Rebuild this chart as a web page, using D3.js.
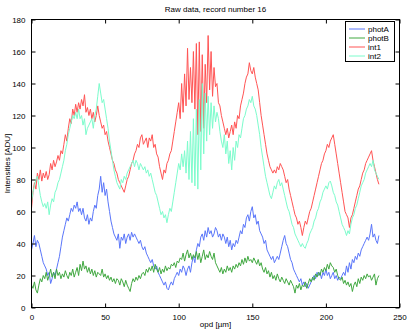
<!DOCTYPE html>
<html>
<head>
<meta charset="utf-8">
<script src="https://cdn.jsdelivr.net/npm/d3@7"></script>
<style>
  body { margin: 0; background: #fff; }
  text { font-family: "Liberation Sans", Arial, sans-serif; font-size: 8px; fill: #000; }
</style>
</head>
<body>
<div id="chart"></div>
<script>
var svgWidth = 409
var svgHeight = 332

// opd positions in um, one sample per micron
var opdStart = 0
var opdEnd = 236

var photA = [
  36, 40, 45, 38, 42, 40, 36, 32, 28, 26,
  24, 20, 22, 15, 18, 22, 20, 24, 28, 32,
  38, 44, 48, 52, 56, 54, 58, 62, 60, 64,
  62, 66, 60, 62, 58, 62, 56, 54, 58, 52,
  56, 54, 60, 64, 62, 70, 74, 82, 72, 78,
  70, 74, 66, 60, 54, 50, 46, 44, 42, 46,
  37, 44, 42, 46, 40, 44, 46, 42, 47, 44,
  46, 44, 42, 40, 42, 38, 36, 38, 34, 32,
  30, 28, 30, 26, 24, 26, 22, 20, 18, 16,
  14, 16, 12, 11, 14, 16, 14, 18, 20, 22,
  20, 24, 22, 26, 24, 20, 24, 26, 22, 28,
  32, 28, 36, 40, 38, 44, 46, 42, 48, 44,
  50, 46, 48, 44, 46, 50, 48, 44, 46, 42,
  46, 44, 40, 44, 38, 42, 36, 40, 38, 42,
  40, 44, 48, 46, 52, 50, 56, 58, 54, 60,
  63, 56, 58, 52, 54, 48, 46, 44, 40, 42,
  36, 34, 32, 30, 32, 28, 30, 32, 30, 34,
  38, 42, 45, 40, 38, 34, 30, 28, 24, 22,
  20, 18, 16, 18, 14, 16, 13, 15, 12, 14,
  16, 18, 20, 18, 22, 20, 22, 18, 22, 20,
  24, 20, 22, 18, 20, 22, 18, 20, 17, 19,
  18, 20, 22, 20, 26, 22, 28, 24, 30, 28,
  32, 30, 34, 32, 36, 38, 40, 42, 44, 42,
  46, 52, 44, 46, 42, 40, 45
]

var photB = [
  14, 12, 16, 11, 9, 14, 18, 16, 20, 18,
  22, 17, 20, 24, 19, 22, 18, 24, 20, 22,
  18, 21, 19, 23, 20, 18, 22, 20, 24, 19,
  22, 25, 20, 27, 23, 29, 24, 26, 22, 25,
  21, 24, 20, 23, 19, 22, 21, 20, 24, 19,
  21, 18, 20, 17, 19, 16, 18, 15, 18, 17,
  14, 18, 16, 13, 17, 14, 12, 10, 15, 18,
  16, 19, 17, 20, 18, 21, 22, 20, 24, 22,
  25, 23, 26, 22, 27, 24, 22, 25, 21, 24,
  22, 26, 23, 25, 24, 27, 26, 28, 25, 29,
  28, 31, 30, 34, 29, 33, 36, 31, 34, 30,
  33, 31, 35, 30, 34, 28, 32, 36, 30, 33,
  31, 35, 32, 30, 34, 28, 26, 24, 22, 25,
  21, 24, 22, 26, 23, 25, 22, 26, 24, 27,
  25, 28, 26, 30, 27, 31, 28, 32, 29, 30,
  28, 31, 29, 27, 30, 26, 28, 24, 22, 25,
  21, 23, 19, 22, 18, 20, 17, 21, 18, 16,
  19, 17, 15, 18, 16, 14, 17, 15, 13, 9,
  14, 12, 15, 11, 14, 13, 16, 12, 15, 18,
  16, 19, 17, 21, 19, 22, 20, 24, 22, 25,
  23, 27, 24, 28, 26, 25, 22, 24, 20, 18,
  17, 19, 15, 17, 14, 16, 13, 15, 10, 14,
  16, 13, 18, 15, 19, 17, 20, 18, 21, 19,
  20, 17, 19, 21, 14, 18, 20
]

var int1 = [
  62, 72, 78, 74, 84, 80, 86, 79, 84, 81,
  85, 80, 83, 90, 86, 92, 88, 91, 95, 92,
  98, 96, 102, 108, 104, 112, 118, 115, 124, 120,
  127, 122, 128, 124, 130, 126, 133, 122, 125, 120,
  124, 118, 122, 116, 120, 126, 120, 116, 112, 114,
  108, 110, 104, 100, 96, 92, 90, 86, 84, 80,
  78, 76, 74, 72, 76, 80, 82, 86, 90, 92,
  96, 98, 102, 100, 106, 108, 102, 104, 106, 100,
  106, 104, 108, 100, 102, 96, 94, 88, 84, 80,
  86, 84, 90, 92, 96, 98, 104, 110, 116, 122,
  128, 118, 140, 122, 146, 126, 162, 130, 150, 128,
  160, 124, 165, 108, 166, 110, 158, 112, 152, 128,
  170, 136, 160, 132, 150, 138, 140, 128, 126, 120,
  116, 112, 108, 112, 106, 110, 114, 108, 116, 112,
  120, 118, 126, 130, 134, 140, 144, 146, 153, 148,
  146, 150, 144, 140, 136, 128, 120, 114, 108, 102,
  96, 92, 88, 86, 84, 86, 84, 88, 86, 90,
  88, 86, 82, 78, 80, 74, 70, 66, 62, 58,
  56, 52, 54, 50, 45, 50, 54, 52, 56, 60,
  62, 66, 70, 74, 78, 82, 86, 90, 92, 96,
  98, 102, 100, 104, 106, 108, 102, 96, 90, 84,
  78, 72, 66, 60, 58, 56, 50, 56, 58, 62,
  66, 70, 74, 76, 80, 84, 86, 90, 92, 94,
  96, 98, 92, 88, 84, 80, 77
]

var int2 = [
  66, 72, 76, 80, 82, 76, 70, 66, 63, 65,
  62, 66, 58, 64, 68, 66, 72, 74, 78, 80,
  84, 88, 92, 98, 102, 108, 112, 116, 120, 118,
  122, 118, 124, 118, 120, 114, 118, 108, 112, 114,
  116, 118, 112, 120, 124, 132, 140, 134, 128, 130,
  124, 118, 112, 104, 98, 92, 86, 82, 78, 76,
  74, 80, 78, 82, 80, 84, 86, 88, 90, 92,
  88, 92, 90, 86, 90, 88, 86, 88, 84, 86,
  82, 84, 80, 76, 72, 70, 66, 62, 58, 60,
  56, 58, 53, 58, 62, 60, 66, 72, 78, 84,
  90, 86, 96, 88, 98, 84, 104, 80, 110, 78,
  118, 76, 124, 74, 130, 86, 140, 96, 134, 104,
  132, 108, 128, 112, 126, 116, 122, 118, 110, 104,
  100, 108, 96, 104, 90, 98, 86, 100, 92, 104,
  100, 108, 106, 112, 118, 120, 124, 126, 130, 128,
  132, 126, 124, 120, 114, 108, 100, 94, 88, 82,
  78, 74, 70, 68, 72, 76, 74, 78, 80, 76,
  78, 74, 70, 66, 62, 60, 56, 52, 50, 46,
  44, 42, 40, 38, 40, 38, 37, 40, 42, 46,
  48, 50, 54, 56, 60, 62, 66, 68, 72, 74,
  76, 74, 78, 79, 76, 72, 70, 66, 64, 60,
  56, 52, 50, 48, 45, 48, 46, 52, 56, 58,
  62, 64, 68, 72, 76, 78, 80, 84, 86, 88,
  90, 88, 92, 86, 84, 82, 80
]

var seriesNames = ["photA", "photB", "int1", "int2"]
var seriesColors = ["#5a76fa", "#40a840", "#ff5454", "#7cfccc"]
var xTicks = [0, 50, 100, 150, 200, 250]
var yTicks = [0, 20, 40, 60, 80, 100, 120, 140, 160, 180]

var opd = d3.range(opdStart, opdEnd + 1)
var allSeries = [photA, photB, int1, int2]

var svg = d3.select("#chart")
    .append("svg")
    .attr("width", svgWidth)
    .attr("height", svgHeight)

var xScale = d3.scaleLinear()
    .domain([0, 250])
    .range([31.5, 399.5])

var yScale = d3.scaleLinear()
    .domain([0, 180])
    .range([307.5, 19.5])

var line = d3.line()
    .x((d, i) => xScale(opd[i]))
    .y(d => yScale(d))

// data lines, drawn in legend order so int2 ends on top
svg.append("g")
    .selectAll("path")
    .data(allSeries)
    .enter()
    .append("path")
    .attr("d", d => line(d))
    .attr("fill", "none")
    .attr("stroke", (d, i) => seriesColors[i])
    .attr("stroke-width", 1)

// axes with inward ticks on all four sides
function styleAxis(g) {
    g.select(".domain").remove()
    g.selectAll("line").attr("stroke", "#000")
    g.selectAll("text").attr("font-size", 8).attr("font-family", "Liberation Sans, Arial, sans-serif")
}

svg.append("g")
    .attr("transform", "translate(0, 307.5)")
    .call(d3.axisBottom(xScale).tickValues(xTicks).tickSize(-4).tickPadding(7).tickFormat(d3.format("d")))
    .call(styleAxis)

svg.append("g")
    .attr("transform", "translate(0, 19.5)")
    .call(d3.axisTop(xScale).tickValues(xTicks).tickSize(-4).tickFormat(""))
    .call(styleAxis)

svg.append("g")
    .attr("transform", "translate(31.5, 0)")
    .call(d3.axisLeft(yScale).tickValues(yTicks).tickSize(-4).tickPadding(6).tickFormat(d3.format("d")))
    .call(styleAxis)

svg.append("g")
    .attr("transform", "translate(399.5, 0)")
    .call(d3.axisRight(yScale).tickValues(yTicks).tickSize(-4).tickFormat(""))
    .call(styleAxis)

// plot box
svg.append("rect")
    .attr("x", xScale(0))
    .attr("y", yScale(180))
    .attr("width", xScale(250) - xScale(0))
    .attr("height", yScale(0) - yScale(180))
    .attr("fill", "none")
    .attr("stroke", "#000")
    .attr("stroke-width", 1)

svg.append("text")
    .attr("x", (xScale(0) + xScale(250)) / 2)
    .attr("y", 12)
    .attr("text-anchor", "middle")
    .text("Raw data, record number 16")

svg.append("text")
    .attr("x", (xScale(0) + xScale(250)) / 2)
    .attr("y", 327)
    .attr("text-anchor", "middle")
    .text("opd [µm]")

svg.append("text")
    .attr("transform", `translate(10, ${(yScale(0) + yScale(180)) / 2}) rotate(-90)`)
    .attr("text-anchor", "middle")
    .text("Intensities [ADU]")

// legend
var legend = svg.append("g")

legend.append("rect")
    .attr("x", 345.5)
    .attr("y", 21.5)
    .attr("width", 49)
    .attr("height", 40)
    .attr("fill", "#fff")
    .attr("stroke", "#000")

var legendRows = legend.selectAll("g.row")
    .data(seriesNames)
    .enter()
    .append("g")
    .attr("class", "row")
    .attr("transform", (d, i) => `translate(0, ${29 + i * 9})`)

legendRows.append("line")
    .attr("x1", 349)
    .attr("x2", 365)
    .attr("stroke", (d, i) => seriesColors[i])

legendRows.append("text")
    .attr("x", 368)
    .attr("y", 3)
    .text(d => d)
</script>
</body>
</html>
